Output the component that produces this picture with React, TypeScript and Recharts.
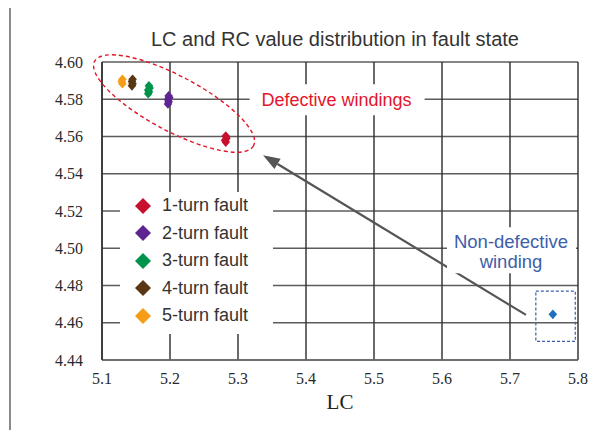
import {
  ScatterChart,
  Scatter,
  XAxis,
  YAxis,
  CartesianGrid,
  Legend,
  ReferenceDot,
  ReferenceLine,
  ReferenceArea,
} from 'recharts'

const xTicks = [5.1, 5.2, 5.3, 5.4, 5.5, 5.6, 5.7, 5.8]
const yTicks = [4.44, 4.46, 4.48, 4.5, 4.52, 4.54, 4.56, 4.58, 4.6]

// LC / RC readings per fault case
const turn1 = [
  { x: 5.282, y: 4.557 },
  { x: 5.281, y: 4.558 },
  { x: 5.283, y: 4.559 },
  { x: 5.282, y: 4.5603 },
]
const turn2 = [
  { x: 5.197, y: 4.5775 },
  { x: 5.198, y: 4.5787 },
  { x: 5.197, y: 4.5798 },
  { x: 5.199, y: 4.5808 },
  { x: 5.198, y: 4.5818 },
]
const turn3 = [
  { x: 5.168, y: 4.583 },
  { x: 5.169, y: 4.584 },
  { x: 5.168, y: 4.585 },
  { x: 5.17, y: 4.586 },
  { x: 5.169, y: 4.5872 },
]
const turn4 = [
  { x: 5.144, y: 4.5872 },
  { x: 5.145, y: 4.5883 },
  { x: 5.144, y: 4.5895 },
  { x: 5.145, y: 4.5907 },
]
const turn5 = [
  { x: 5.13, y: 4.5883 },
  { x: 5.129, y: 4.5895 },
  { x: 5.13, y: 4.5907 },
]
const healthy = [{ x: 5.763, y: 4.4645 }]

const seriesNames = ['1-turn fault', '2-turn fault', '3-turn fault', '4-turn fault', '5-turn fault']
const seriesColors = ['#c8102e', '#5e2491', '#00944a', '#5a3712', '#f59d17']
const faultData = [turn1, turn2, turn3, turn4, turn5]

const sans = '"Liberation Sans", Arial, Helvetica, sans-serif'
const serif = '"Liberation Serif", "Times New Roman", serif'
const red = '#e3152b'
const blue = '#3d5ea9'

function Diamond({ cx, cy, fill }: any) {
  return (
    <polygon
      points={`${cx},${cy - 4.8} ${cx + 4.3},${cy} ${cx},${cy + 4.8} ${cx - 4.3},${cy}`}
      fill={fill}
    />
  )
}

function LegendBox({ payload }: any) {
  const items = (payload || []).filter((p: any) => seriesNames.includes(p.value))
  return (
    <div style={{ background: '#fff', paddingBottom: 4, width: 153 }}>
      {items.map((p: any) => (
        <div key={p.value} style={{ height: 27.5, display: 'flex', alignItems: 'center' }}>
          <svg width={16} height={16} style={{ marginLeft: 15, marginRight: 11 }}>
            <polygon points="8,0 16,8 8,16 0,8" fill={p.color} />
          </svg>
          <span style={{ fontFamily: sans, fontSize: 18, color: '#333' }}>{p.value}</span>
        </div>
      ))}
    </div>
  )
}

function Ring({ cx, cy }: any) {
  return (
    <ellipse
      cx={cx}
      cy={cy}
      rx={90}
      ry={27.5}
      transform={`rotate(28 ${cx} ${cy})`}
      fill="none"
      stroke={red}
      strokeWidth={1.4}
      strokeDasharray="4 3"
    />
  )
}

function DefectiveTag({ cx, cy }: any) {
  return (
    <g>
      <rect x={cx - 87} y={cy - 15} width={175} height={31} fill="#fff" />
      <text x={cx} y={cy + 6.5} textAnchor="middle" fill={red} style={{ fontFamily: sans, fontSize: 18 }}>
        Defective windings
      </text>
    </g>
  )
}

function HealthyTag({ cx, cy }: any) {
  return (
    <g>
      <rect x={cx - 64} y={cy - 21} width={129} height={46} fill="#fff" />
      <text textAnchor="middle" fill={blue} style={{ fontFamily: sans, fontSize: 18.5 }}>
        <tspan x={cx} y={cy}>Non-defective</tspan>
        <tspan x={cx} y={cy + 19.5}>winding</tspan>
      </text>
    </g>
  )
}

function Arrow({ x1, y1, x2, y2 }: any) {
  const ang = Math.atan2(y2 - y1, x2 - x1)
  const len = 17
  const half = 6
  const bx = x2 - len * Math.cos(ang)
  const by = y2 - len * Math.sin(ang)
  const px = -Math.sin(ang) * half
  const py = Math.cos(ang) * half
  return (
    <g>
      <line x1={x1} y1={y1} x2={bx} y2={by} stroke="#555" strokeWidth={2.2} />
      <polygon points={`${x2},${y2} ${bx + px},${by + py} ${bx - px},${by - py}`} fill="#555" />
    </g>
  )
}

export default function App() {
  return (
    <div style={{ position: 'relative', width: 608, height: 438, margin: -8, overflow: 'hidden', background: '#fff' }}>
      <div
        style={{
          position: 'absolute',
          left: 9,
          top: 5,
          width: 640,
          height: 460,
          borderTop: '2px solid #8a8a8a',
          borderLeft: '2px solid #8a8a8a',
        }}
      />
      <div
        style={{
          position: 'absolute',
          left: 135,
          top: 29,
          width: 400,
          textAlign: 'center',
          fontFamily: sans,
          fontSize: 20,
          lineHeight: '20px',
          color: '#333',
          whiteSpace: 'nowrap',
        }}
      >
        LC and RC value distribution in fault state
      </div>
      <ScatterChart
        width={608}
        height={438}
        margin={{ top: 62, right: 30, bottom: 48, left: 0 }}
        style={{ position: 'absolute', left: 0, top: 0 }}
      >
        <CartesianGrid vertical={false} stroke="#5c5c5c" strokeWidth={1.5} />
        <CartesianGrid horizontal={false} stroke="#2e2a2a" strokeWidth={1.4} />
        <XAxis
          type="number"
          dataKey="x"
          domain={[5.1, 5.8]}
          ticks={xTicks}
          allowDataOverflow
          tickFormatter={(v: number) => v.toFixed(1)}
          tickLine={false}
          tickSize={0}
          tickMargin={13}
          axisLine={{ stroke: '#6a6a6a', strokeWidth: 1.6 }}
          tick={{ fill: '#2a2a2a', fontSize: 16, fontFamily: serif }}
          height={30}
          label={{ value: 'LC', position: 'bottom', offset: 4, fill: '#222', fontSize: 21, fontFamily: serif }}
        />
        <YAxis
          type="number"
          dataKey="y"
          domain={[4.44, 4.6]}
          ticks={yTicks}
          allowDataOverflow
          tickFormatter={(v: number) => v.toFixed(2)}
          tickLine={false}
          tickSize={0}
          tickMargin={19}
          width={102}
          axisLine={{ stroke: '#333', strokeWidth: 1.5 }}
          tick={{ fill: '#2a2a2a', fontSize: 16, fontFamily: serif }}
        />
        <ReferenceDot x={5.206} y={4.5777} shape={Ring} />
        <ReferenceDot x={5.445} y={4.58} shape={DefectiveTag} />
        <ReferenceDot x={5.7015} y={4.5} shape={HealthyTag} />
        <ReferenceArea
          x1={5.738}
          x2={5.796}
          y1={4.45}
          y2={4.477}
          fill="none"
          stroke={blue}
          strokeWidth={1.2}
          strokeDasharray="3 2"
        />
        <ReferenceLine
          segment={[
            { x: 5.7235, y: 4.4642 },
            { x: 5.3368, y: 4.55 },
          ]}
          shape={Arrow}
        />
        {faultData.map((d, i) => (
          <Scatter
            key={seriesNames[i]}
            name={seriesNames[i]}
            data={d}
            fill={seriesColors[i]}
            shape={Diamond}
            isAnimationActive={false}
          />
        ))}
        <Scatter
          name="Non-defective winding"
          data={healthy}
          fill="#1f6fbe"
          shape={Diamond}
          legendType="none"
          isAnimationActive={false}
        />
        <Legend
          layout="vertical"
          align="center"
          verticalAlign="middle"
          content={LegendBox}
          wrapperStyle={{ left: 120, top: 192, width: 153 }}
        />
      </ScatterChart>
    </div>
  )
}
